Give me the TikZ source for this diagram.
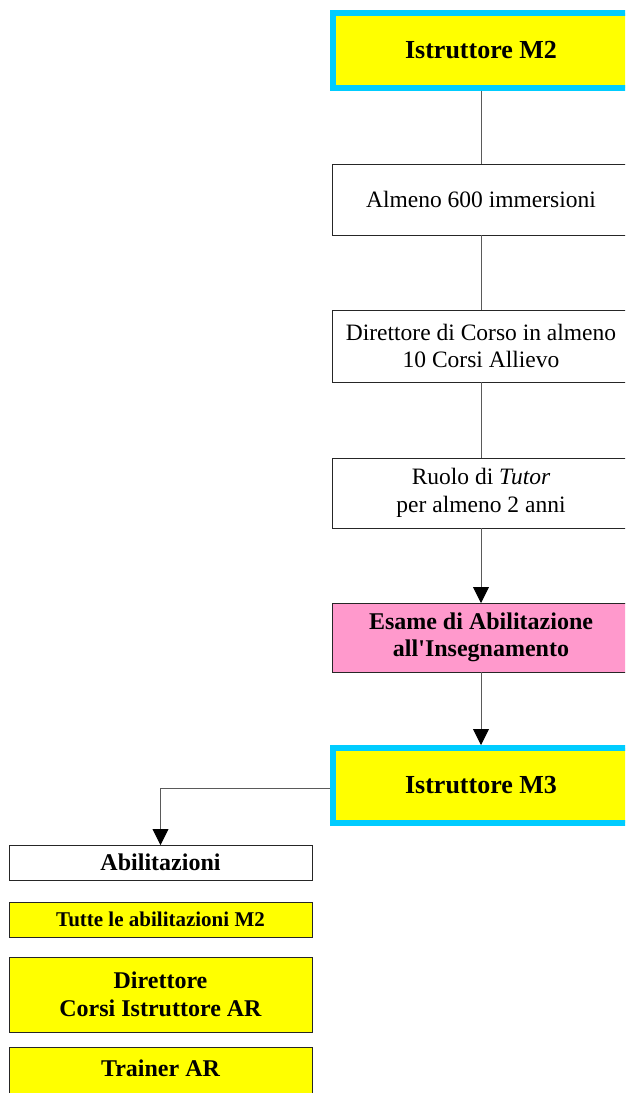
\documentclass[tikz,border=0pt]{standalone}
\usepackage{fontspec}
\setmainfont{Liberation Serif}
\usetikzlibrary{arrows.meta}
\definecolor{boxyellow}{RGB}{255,255,0}
\definecolor{boxcyan}{RGB}{0,204,255}
\definecolor{boxpink}{RGB}{255,153,204}
\definecolor{linegray}{RGB}{90,90,90}
\begin{document}
\begin{tikzpicture}[x=1pt,y=-1pt,
  basebox/.style={draw=black!85, line width=0.9pt, inner sep=0pt, outer sep=0pt, align=center},
  plainbox/.style={basebox, fill=white, minimum width=298pt, font=\fontsize{23.5}{27.5}\selectfont},
  levelbox/.style={draw=boxcyan, line width=6pt, fill=boxyellow, inner sep=0pt, outer sep=3pt,
     minimum width=296pt, minimum height=75pt, align=center, font=\bfseries\fontsize{26}{30}\selectfont},
  exambox/.style={basebox, fill=boxpink, minimum width=298pt, font=\bfseries\fontsize{24}{27.5}\selectfont},
  abilbox/.style={basebox, minimum width=303pt, font=\bfseries\fontsize{24}{28}\selectfont},
  conn/.style={draw=linegray, line width=0.9pt},
  tip/.style={-{Triangle[width=16pt,length=16pt,color=black]}}
]
\useasboundingbox (0,0) rectangle (625,1093);
\clip (0,0) rectangle (625,1093);

\node[levelbox] (m2) at (481,50.5) {Istruttore M2};
\node[plainbox, minimum height=71pt] (req1) at (481,199.5) {Almeno 600 immersioni};
\node[plainbox, minimum height=72pt] (req2) at (481,346) {Direttore di Corso in almeno\\10 Corsi Allievo};
\node[plainbox, minimum height=70pt] (req3) at (481,493) {Ruolo di \textit{Tutor}\\per almeno 2 anni};
\node[exambox, minimum height=69pt] (exam) at (481,637.5) {Esame di Abilitazione\\all\textquotesingle Insegnamento};
\node[levelbox] (m3) at (481,785.5) {Istruttore M3};

\node[abilbox, fill=white, minimum height=35pt] (abil) at (160.5,862.5) {Abilitazioni};
\node[abilbox, fill=boxyellow, minimum height=35pt, font=\bfseries\fontsize{21}{25}\selectfont] (ab1) at (160.5,919.5) {Tutte le abilitazioni M2};
\node[abilbox, fill=boxyellow, minimum height=75pt] (ab2) at (160.5,994.5) {Direttore\\Corsi Istruttore AR};
\node[abilbox, fill=boxyellow, minimum height=50pt, text depth=8pt] (ab3) at (160.5,1072) {Trainer AR};

\draw[conn] (m2) -- (req1);
\draw[conn] (req1) -- (req2);
\draw[conn] (req2) -- (req3);
\draw[conn, tip] (req3) -- (exam);
\draw[conn, tip] (exam) -- (m3);
\draw[conn, tip] ([yshift=-2.5pt]m3.west) -| (abil.north);
\end{tikzpicture}
\end{document}
